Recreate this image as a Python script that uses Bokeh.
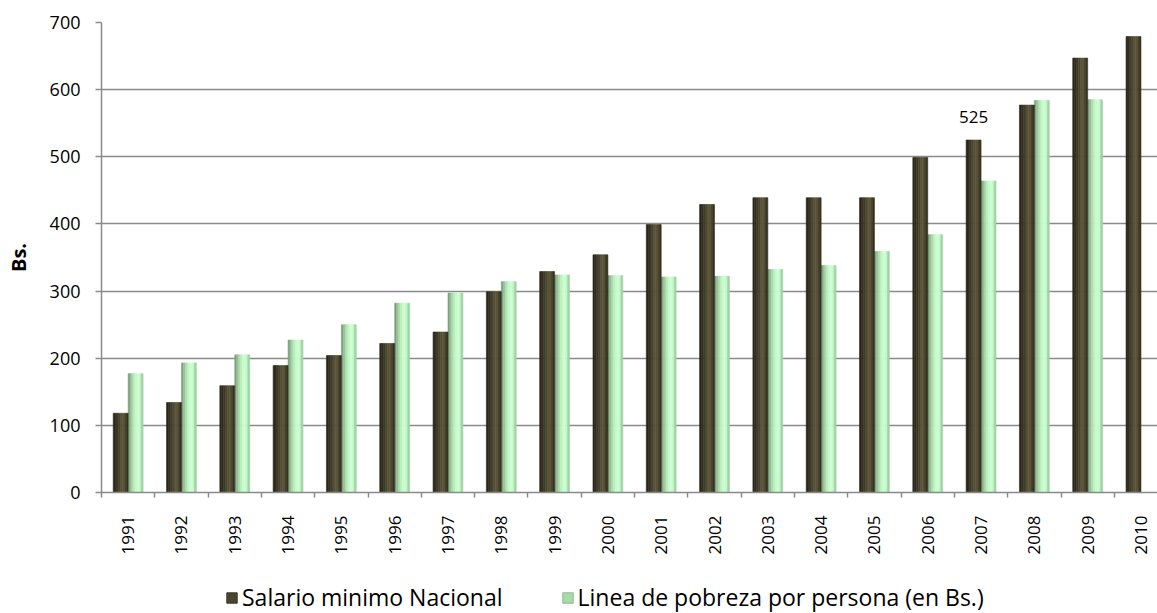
import math
from bokeh.plotting import figure
from bokeh.layouts import column
from bokeh.models import Range1d, FixedTicker, Legend, LegendItem, ColumnDataSource
from bokeh.transform import dodge
from bokeh.core.properties import value
from bokeh.embed import file_html
from bokeh.resources import INLINE

# ---- data ----
years = list(range(1991, 2011))
salario = [118, 134, 159, 189, 204, 222, 239, 299, 329, 354,
           399, 429, 439, 439, 439, 499, 525, 577, 647, 679]
linea = [177, 193, 205, 227, 250, 282, 297, 314, 324, 323,
         321, 322, 332, 338, 359, 384, 464, 584, 585, float("nan")]
label_years = [2007]
label_values = [525]
y_ticks = [0, 100, 200, 300, 400, 500, 600, 700]

series_names = ["Salario minimo Nacional", "Linea de pobreza por persona (en Bs.)"]

FONT = "Open Sans"
GRID = "#8a8a8a"

src = ColumnDataSource(dict(year=years, salario=salario, linea=linea))

p = figure(width=1157, height=560, output_backend="svg", toolbar_location=None,
           x_range=Range1d(1990.5, 2010.31), y_range=Range1d(0, 700),
           min_border_left=101, min_border_right=0, min_border_top=22,
           min_border_bottom=68)
p.outline_line_color = None
p.background_fill_color = "white"
p.border_fill_color = "white"

# bars with a cylindrical shading made of thin strips
BW = 0.28
dark_cols = ["#2a271a", "#332f20", "#3e3a28", "#4a442e", "#555036", "#5c553a", "#4c4630", "#36321f"]
green_cols = ["#7f9f7f", "#96bf97", "#abdcad", "#bcefbe", "#c6fbca", "#cdffd3", "#c3f7c8", "#a3d2a7"]
n = len(dark_cols)
sw = BW / n
for k in range(n):
    off_d = -BW + sw * (k + 0.5)
    p.vbar(x=dodge("year", off_d), top="salario", width=sw, bottom=0, source=src,
           fill_color=dark_cols[k], line_color=dark_cols[k], line_width=0.6)
    off_g = sw * (k + 0.5)
    p.vbar(x=dodge("year", off_g), top="linea", width=sw, bottom=0, source=src,
           fill_color=green_cols[k], line_color=green_cols[k], line_width=0.6)

# data label
lsrc = ColumnDataSource(dict(x=label_years, y=label_values, t=[str(v) for v in label_values]))
p.text(x=dodge("x", -BW / 2), y="y", text="t", source=lsrc, y_offset=-17,
       text_align="center", text_baseline="bottom",
       text_font=value(FONT), text_font_size="17px", text_color="#000000")

# axes
p.yaxis.ticker = FixedTicker(ticks=y_ticks)
p.yaxis.major_tick_out = 6
p.yaxis.major_tick_in = 0
p.yaxis.minor_tick_line_color = None
p.yaxis.axis_line_color = GRID
p.yaxis.axis_line_width = 1.5
p.yaxis.major_tick_line_color = GRID
p.yaxis.major_tick_line_width = 1.5
p.yaxis.major_label_text_font = FONT
p.yaxis.major_label_text_font_size = "18px"
p.yaxis.major_label_text_color = "#000000"
p.yaxis.major_label_standoff = 15
p.yaxis.axis_label = "Bs."
p.yaxis.axis_label_text_font = FONT
p.yaxis.axis_label_text_font_style = "bold"
p.yaxis.axis_label_text_font_size = "20px"
p.yaxis.axis_label_text_color = "#000000"
p.yaxis.axis_label_standoff = 15

bounds = [y - 0.5 for y in years] + [years[-1] + 0.5]
p.xaxis.ticker = FixedTicker(ticks=years, minor_ticks=bounds)
p.xaxis.major_label_overrides = {y: str(y) for y in years}
p.xaxis.major_label_orientation = math.pi / 2
p.xaxis.major_tick_line_color = None
p.xaxis.major_tick_out = 5
p.xaxis.minor_tick_line_color = GRID
p.xaxis.minor_tick_line_width = 1.5
p.xaxis.minor_tick_out = 5
p.xaxis.minor_tick_in = 0
p.xaxis.axis_line_color = GRID
p.xaxis.axis_line_width = 1.5
p.xaxis.major_label_text_font = FONT
p.xaxis.major_label_text_font_size = "17px"
p.xaxis.major_label_text_color = "#000000"
p.xaxis.major_label_standoff = 18

p.xgrid.grid_line_color = None
p.ygrid.ticker = FixedTicker(ticks=y_ticks)
p.ygrid.grid_line_color = GRID
p.ygrid.grid_line_width = 1.5

# ---- legend strip below the chart (its frame is aligned with the chart's) ----
leg = figure(width=1157, height=53, output_backend="svg", toolbar_location=None,
             x_range=Range1d(0, 1), y_range=Range1d(0, 1),
             min_border_left=0, min_border_right=0, min_border_top=0, min_border_bottom=0,
             x_axis_type=None, y_axis_type=None)
leg.outline_line_color = None
leg.xgrid.grid_line_color = None
leg.ygrid.grid_line_color = None
# same series, out of this strip's view: used only for the legend swatches
r_dark = leg.vbar(x="year", top="salario", width=1, source=src,
                  fill_color="#4a452f", line_color="#3a3625")
r_green = leg.vbar(x="year", top="linea", width=1, source=src,
                   fill_color="#a9dba9", line_color="#8fb88f")
legend = Legend(items=[LegendItem(label=series_names[0], renderers=[r_dark], index=0),
                       LegendItem(label=series_names[1], renderers=[r_green], index=0)],
                location=(124, 0), orientation="horizontal",
                label_text_font=FONT, label_text_font_size="23px",
                label_text_color="#000000", label_height=26,
                glyph_width=13, glyph_height=13, label_standoff=4, spacing=58,
                padding=0, margin=0, border_line_color=None,
                background_fill_alpha=0)
leg.add_layout(legend, "center")

layout = column(p, leg, spacing=0)
open("out.html", "w").write(file_html(layout, INLINE))
